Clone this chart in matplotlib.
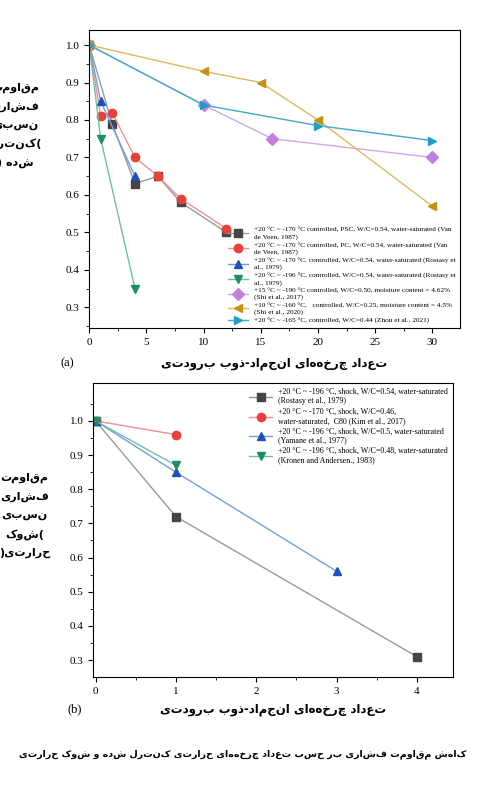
import matplotlib
matplotlib.use("Agg")
import matplotlib.pyplot as plt

def rtl(s):
    return "\n".join(line[::-1] for line in s.split("\n"))

# ---- top panel data ----
psc_x = [0, 2, 4, 6, 8, 12]; psc_y = [1.0, 0.79, 0.63, 0.65, 0.58, 0.50]
pc_x = [0, 1, 2, 4, 6, 8, 12]; pc_y = [1.0, 0.81, 0.82, 0.70, 0.65, 0.59, 0.51]
r1_x = [0, 1, 4]; r1_y = [1.0, 0.85, 0.65]
r2_x = [0, 1, 4]; r2_y = [1.0, 0.75, 0.35]
s17_x = [0, 10, 16, 30]; s17_y = [1.0, 0.84, 0.75, 0.70]
s20_x = [0, 10, 15, 20, 30]; s20_y = [1.0, 0.93, 0.90, 0.80, 0.57]
z_x = [0, 10, 20, 30]; z_y = [1.0, 0.84, 0.785, 0.745]
top_labels = [
    "+20 °C ~ -170 °C controlled, PSC, W/C=0.54, water-saturated (Van\nde Veen, 1987)",
    "+20 °C ~ -170 °C controlled, PC, W/C=0.54, water-saturated (Van\nde Veen, 1987)",
    "+20 °C ~ -170 °C, controlled, W/C=0.54, water-saturated (Rostasy et\nal., 1979)",
    "+20 °C ~ -196 °C, controlled, W/C=0.54, water-saturated (Rostasy et\nal., 1979)",
    "+15 °C ~ -190 °C controlled, W/C=0.50, moisture content = 4.62%\n(Shi et al., 2017)",
    "+10 °C ~ -160 °C,   controlled, W/C=0.25, moisture content = 4.5%\n(Shi et al., 2020)",
    "+20 °C ~ -165 °C, controlled, W/C=0.44 (Zhou et al., 2021)",
]
# ---- bottom panel data ----
b1_x = [0, 1, 4]; b1_y = [1.0, 0.72, 0.31]
b2_x = [0, 1]; b2_y = [1.0, 0.96]
b3_x = [0, 1, 3]; b3_y = [1.0, 0.85, 0.56]
b4_x = [0, 1]; b4_y = [1.0, 0.87]
bot_labels = [
    "+20 °C ~ -196 °C, shock, W/C=0.54, water-saturated\n(Rostasy et al., 1979)",
    "+20 °C ~ -170 °C, shock, W/C=0.46,\nwater-saturated,  C80 (Kim et al., 2017)",
    "+20 °C ~ -196 °C, shock, W/C=0.5, water-saturated\n(Yamane et al., 1977)",
    "+20 °C ~ -196 °C, shock, W/C=0.48, water-saturated\n(Kronen and Andersen., 1983)",
]

plt.rcParams['font.family'] = ['Liberation Serif', 'DejaVu Sans']
fig = plt.figure(figsize=(4.85, 7.92), dpi=100)

styles = [("s", "#454545", "#9a9a9a"), ("o", "#e8403a", "#f09090"),
          ("^", "#1f4fbf", "#6f9fdf"), ("v", "#1a9060", "#70c0a0"),
          ("D", "#c080e0", "#d0a8e8"), ("<", "#c89010", "#e0b860"),
          (">", "#20a0c0", "#40a8d0")]

ax = fig.add_axes([0.184, 0.586, 0.764, 0.376])
tops = [(psc_x, psc_y), (pc_x, pc_y), (r1_x, r1_y), (r2_x, r2_y),
        (s17_x, s17_y), (s20_x, s20_y), (z_x, z_y)]
for (xs, ys), (m, c, lc), lab in zip(tops, styles, top_labels):
    ax.plot(xs, ys, color=lc, lw=1.0, marker=m, mfc=c, mec=c, ms=6, label=lab)
ax.set_xlim(0, 32.4); ax.set_ylim(0.245, 1.04)
ax.set_xticks([0, 5, 10, 15, 20, 25, 30])
ax.set_xticks([2.5, 7.5, 12.5, 17.5, 22.5, 27.5], minor=True)
ax.set_yticks([0.3, 0.4, 0.5, 0.6, 0.7, 0.8, 0.9, 1.0])
ax.set_yticks([0.25, 0.35, 0.45, 0.55, 0.65, 0.75, 0.85, 0.95], minor=True)
ax.tick_params(labelsize=8)
ax.legend(loc='lower right', fontsize=5.2, frameon=False, handlelength=2.8,
          labelspacing=0.35, borderaxespad=0.2)
ax.text(-0.2, 0.68, rtl("مقاومت\nفشاری\nنسبی\n(کنترل\nشده )"), transform=ax.transAxes,
        ha='center', va='center', fontsize=8, fontweight='bold', family=['DejaVu Sans'],
        linespacing=2.0)
ax.text(0.5, -0.12, rtl("تعداد چرخه‌های انجماد-ذوب برودتی"), transform=ax.transAxes,
        ha='center', va='center', fontsize=8.5, fontweight='bold', family=['DejaVu Sans'])
ax.text(-0.06, -0.13, "(a)", transform=ax.transAxes, ha='center', fontsize=9)

ax2 = fig.add_axes([0.192, 0.145, 0.742, 0.371])
bots = [(b1_x, b1_y), (b2_x, b2_y), (b3_x, b3_y), (b4_x, b4_y)]
for (xs, ys), (m, c, lc), lab in zip(bots, styles[:4], bot_labels):
    ax2.plot(xs, ys, color=lc, lw=1.0, marker=m, mfc=c, mec=c, ms=6, label=lab)
ax2.set_xlim(-0.03, 4.45); ax2.set_ylim(0.25, 1.11)
ax2.set_xticks([0, 1, 2, 3, 4])
ax2.set_xticks([0.5, 1.5, 2.5, 3.5], minor=True)
ax2.set_yticks([0.3, 0.4, 0.5, 0.6, 0.7, 0.8, 0.9, 1.0])
ax2.set_yticks([0.35, 0.45, 0.55, 0.65, 0.75, 0.85, 0.95, 1.05], minor=True)
ax2.tick_params(labelsize=8)
ax2.legend(loc='upper right', fontsize=5.8, frameon=False, handlelength=2.8,
           labelspacing=0.3, borderaxespad=0.2)
ax2.text(-0.19, 0.55, rtl("مقاومت\nفشاری\nنسبی\n(شوک\nحرارتی)"), transform=ax2.transAxes,
         ha='center', va='center', fontsize=8, fontweight='bold', family=['DejaVu Sans'],
         linespacing=2.0)
ax2.text(0.5, -0.11, rtl("تعداد چرخه‌های انجماد-ذوب برودتی"), transform=ax2.transAxes,
         ha='center', va='center', fontsize=8.5, fontweight='bold', family=['DejaVu Sans'])
ax2.text(-0.05, -0.12, "(b)", transform=ax2.transAxes, ha='center', fontsize=9)

fig.text(0.5, 0.045, rtl("کاهش مقاومت فشاری بر حسب تعداد چرخه‌های حرارتی کنترل شده و شوک حرارتی"),
         ha='center', fontsize=6.8, fontweight='bold', family=['DejaVu Sans'])
fig.savefig("out.png", dpi=100)
